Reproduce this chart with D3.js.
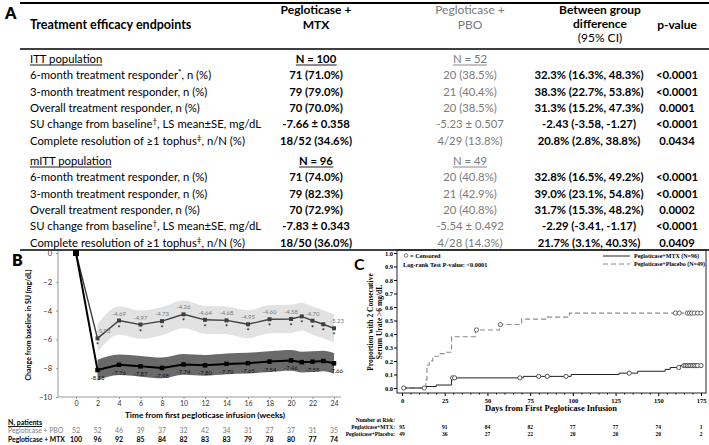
<!DOCTYPE html>
<html><head><meta charset="utf-8">
<script src="https://cdn.jsdelivr.net/npm/d3@7"></script>
<style>
body{margin:0;background:#fff;}
svg{display:block;}
.tbl text{font-family:Lato,"Open Sans",sans-serif;}
.pb text{font-family:Lato,"Open Sans",sans-serif;}
.pc text{font-family:"Liberation Serif","DejaVu Serif",serif;font-weight:700;}
</style></head><body>
<svg id="fig" width="709" height="445"></svg>
<script>
// ================= Panel A data =================
const colHeadMTX = ["Pegloticase +", "MTX"];
const colHeadPBO = ["Pegloticase +", "PBO"];
const colHeadDiff = ["Between group", "difference", "(95% CI)"];
const colHeadP = "p-value";
const sectionNames = ["ITT population", "mITT population"];
const sectionN_MTX = ["N = 100", "N = 96"];
const sectionN_PBO = ["N = 52", "N = 49"];
// label parts: [main, superscript, rest]
const ittLabels = [
  ["6-month treatment responder", "*", ", n (%)"],
  ["3-month treatment responder, n (%)", "", ""],
  ["Overall treatment responder, n (%)", "", ""],
  ["SU change from baseline", "†", ", LS mean±SE, mg/dL"],
  ["Complete resolution of ≥1 tophus", "‡", ", n/N (%)"]
];
const mittLabels = [
  ["6-month treatment responder, n (%)", "", ""],
  ["3-month treatment responder, n (%)", "", ""],
  ["Overall treatment responder, n (%)", "", ""],
  ["SU change from baseline", "†", ", LS mean±SE, mg/dL"],
  ["Complete resolution of ≥1 tophus", "‡", ", n/N (%)"]
];
const ittMTX = ["71 (71.0%)", "79 (79.0%)", "70 (70.0%)", "-7.66 ± 0.358", "18/52 (34.6%)"];
const ittPBO = ["20 (38.5%)", "21 (40.4%)", "20 (38.5%)", "-5.23 ± 0.507", "4/29 (13.8%)"];
const ittDiff = ["32.3% (16.3%, 48.3%)", "38.3% (22.7%, 53.8%)", "31.3% (15.2%, 47.3%)", "-2.43 (-3.58, -1.27)", "20.8% (2.8%, 38.8%)"];
const ittP = ["<0.0001", "<0.0001", "0.0001", "<0.0001", "0.0434"];
const mittMTX = ["71 (74.0%)", "79 (82.3%)", "70 (72.9%)", "-7.83 ± 0.343", "18/50 (36.0%)"];
const mittPBO = ["20 (40.8%)", "21 (42.9%)", "20 (40.8%)", "-5.54 ± 0.492", "4/28 (14.3%)"];
const mittDiff = ["32.8% (16.5%, 49.2%)", "39.0% (23.1%, 54.8%)", "31.7% (15.3%, 48.2%)", "-2.29 (-3.41, -1.17)", "21.7% (3.1%, 40.3%)"];
const mittP = ["<0.0001", "<0.0001", "0.0002", "<0.0001", "0.0409"];

// ================= Panel B data =================
const weeksB = [0, 2, 4, 6, 8, 10, 12, 14, 16, 18, 20, 21, 22, 23, 24];
const pboMean = [0, -5.93, -4.69, -4.97, -4.73, -4.26, -4.64, -4.68, -4.95, -4.60, -4.58, -4.40, -4.70, -4.95, -5.23];
const pboLabels = ["", "-5.93", "-4.69", "-4.97", "-4.73", "-4.26", "-4.64", "-4.68", "-4.95", "-4.60", "-4.58", "", "-4.70", "", "-5.23"];
const pboUpper = [null, -4.95, -3.70, -4.00, -3.75, -3.30, -3.68, -3.72, -3.98, -3.62, -3.60, -3.45, -3.72, -3.98, -4.25];
const pboLower = [null, -6.90, -5.68, -5.95, -5.71, -5.22, -5.60, -5.64, -5.92, -5.58, -5.56, -5.38, -5.68, -5.92, -6.21];
const mtxMean = [0, -8.13, -7.76, -7.87, -7.98, -7.74, -7.80, -7.70, -7.65, -7.54, -7.46, -7.58, -7.55, -7.50, -7.66];
const mtxLabels = ["", "-8.13", "-7.76", "-7.87", "-7.98", "-7.74", "-7.80", "-7.70", "-7.65", "-7.54", "-7.46", "", "-7.55", "", "-7.66"];
const mtxUpper = [null, -7.41, -7.04, -7.15, -7.26, -7.02, -7.08, -6.98, -6.93, -6.82, -6.74, -6.86, -6.83, -6.78, -6.94];
const mtxLower = [null, -8.85, -8.48, -8.59, -8.70, -8.46, -8.52, -8.42, -8.37, -8.26, -8.18, -8.30, -8.27, -8.22, -8.38];
const yTicksB = [0, -2, -4, -6, -8, -10];
const xTicksB = [0, 2, 4, 6, 8, 10, 12, 14, 16, 18, 20, 22, 24];
const nPBO = [52, 52, 46, 39, 37, 32, 42, 34, 31, 27, 37, 31, 35];
const nMTX = [100, 96, 92, 85, 84, 82, 83, 83, 79, 78, 80, 77, 74];

// ================= Panel C data =================
const mtxSteps = [[0, 0], [14, 0.011], [20, 0.022], [29, 0.075], [71, 0.086], [99, 0.100], [127, 0.110], [138, 0.124], [154, 0.138], [157, 0.152], [163, 0.166]];
const mtxCensor = [[1, 0], [29.6, 0.075], [30.8, 0.075], [69, 0.075], [80, 0.086], [85, 0.086], [96, 0.086], [133, 0.110], [162, 0.152], [165, 0.166], [166, 0.166], [167, 0.166], [168, 0.166], [169, 0.166], [170, 0.166], [171, 0.166], [172, 0.166], [173, 0.166], [175, 0.166]];
const pboSteps = [[0, 0], [14, 0.06], [14.6, 0.17], [16, 0.20], [18, 0.235], [21.5, 0.255], [25, 0.265], [29, 0.38], [43, 0.43], [57, 0.47], [70, 0.51], [85, 0.525], [98, 0.555]];
const pboCensor = [[13, 0], [43.6, 0.43], [57.6, 0.47], [160, 0.555], [162.3, 0.555], [167, 0.555], [168.3, 0.555], [169.5, 0.555], [171, 0.555], [173, 0.555], [175, 0.555]];
const riskDays = [0, 25, 50, 75, 100, 125, 150, 175];
const riskMTX = [95, 91, 84, 82, 77, 77, 74, 1];
const riskPBO = [49, 36, 27, 22, 20, 20, 20, 2];
const yTicksC = [0, 0.1, 0.2, 0.3, 0.4, 0.5, 0.6, 0.7, 0.8, 0.9, 1.0];

// ================= Drawing =================
const svg = d3.select("#fig");
svg.append("rect").attr("width", 709).attr("height", 445).attr("fill", "#fff");

function hline(g, x1, x2, y, w) {
  g.append("line").attr("x1", x1).attr("x2", x2).attr("y1", y).attr("y2", y)
    .attr("stroke", "#000").attr("stroke-width", w);
}
function underline(g, t, color) {
  const n = t.node(); const bb = n.getBBox();
  g.append("line").attr("x1", bb.x).attr("x2", bb.x + bb.width)
    .attr("y1", +t.attr("y") + 2).attr("y2", +t.attr("y") + 2)
    .attr("stroke", color).attr("stroke-width", 0.9);
}

// ---- Panel A ----
const A = svg.append("g").attr("class", "tbl");
const FS = 11.3;
const cx = { label: 30, mtx: 316, pbo: 470, diff: 589, p: 677 };
A.append("text").text("A").attr("x", 5).attr("y", 19).attr("font-size", 16).attr("font-weight", 800);
hline(A, 20, 709, 3, 2);
hline(A, 20, 709, 49, 1.6);
hline(A, 20, 709, 250, 1.6);

A.append("text").text("Treatment efficacy endpoints").attr("x", cx.label).attr("y", 29)
  .attr("font-size", 12.5).attr("font-weight", 700);
colHeadMTX.forEach((s, i) => A.append("text").text(s).attr("x", cx.mtx).attr("y", 14 + 15 * i)
  .attr("text-anchor", "middle").attr("font-size", 12).attr("font-weight", 700));
colHeadPBO.forEach((s, i) => A.append("text").text(s).attr("x", cx.pbo).attr("y", 14 + 15 * i)
  .attr("text-anchor", "middle").attr("font-size", 12).attr("fill", "#7a7a7a"));
colHeadDiff.forEach((s, i) => A.append("text").text(s).attr("x", 600).attr("y", 14 + 14 * i)
  .attr("text-anchor", "middle").attr("font-size", 12).attr("font-weight", i < 2 ? 700 : 400));
A.append("text").text(colHeadP).attr("x", cx.p).attr("y", 29).attr("text-anchor", "middle")
  .attr("font-size", 12).attr("font-weight", 700);

const sections = [
  { y0: 63, labels: ittLabels, mtx: ittMTX, pbo: ittPBO, diff: ittDiff, p: ittP },
  { y0: 165, labels: mittLabels, mtx: mittMTX, pbo: mittPBO, diff: mittDiff, p: mittP }
];
const pitch = 16.3;
sections.forEach((sec, si) => {
  const t1 = A.append("text").text(sectionNames[si]).attr("x", cx.label).attr("y", sec.y0).attr("font-size", FS);
  underline(A, t1, "#000");
  const t2 = A.append("text").text(sectionN_MTX[si]).attr("x", cx.mtx).attr("y", sec.y0)
    .attr("text-anchor", "middle").attr("font-size", FS).attr("font-weight", 700);
  underline(A, t2, "#000");
  const t3 = A.append("text").text(sectionN_PBO[si]).attr("x", cx.pbo).attr("y", sec.y0)
    .attr("text-anchor", "middle").attr("font-size", FS).attr("fill", "#7a7a7a");
  underline(A, t3, "#7a7a7a");
  sec.labels.forEach((lab, i) => {
    const y = sec.y0 + pitch * (i + 1);
    const t = A.append("text").attr("x", cx.label).attr("y", y).attr("font-size", FS);
    t.append("tspan").text(lab[0]);
    if (lab[1]) t.append("tspan").text(lab[1]).attr("font-size", 8).attr("dy", -4).attr("font-weight", lab[1] === "*" ? 700 : 400);
    if (lab[2]) t.append("tspan").text(lab[2]).attr("dy", lab[1] ? 4 : 0);
    A.append("text").text(sec.mtx[i]).attr("x", cx.mtx).attr("y", y).attr("text-anchor", "middle")
      .attr("font-size", FS).attr("font-weight", 700);
    A.append("text").text(sec.pbo[i]).attr("x", cx.pbo).attr("y", y).attr("text-anchor", "middle")
      .attr("font-size", FS).attr("fill", "#7a7a7a");
    A.append("text").text(sec.diff[i]).attr("x", cx.diff).attr("y", y).attr("text-anchor", "middle")
      .attr("font-size", FS).attr("font-weight", 700);
    A.append("text").text(sec.p[i]).attr("x", cx.p).attr("y", y).attr("text-anchor", "middle")
      .attr("font-size", FS).attr("font-weight", 700);
  });
});

// ---- Panel B ----
const B = svg.append("g").attr("class", "pb");
const xB = d3.scaleLinear().domain([0, 24]).range([76, 334]);
const yB = d3.scaleLinear().domain([-10, 0]).range([397, 253]);
B.append("text").text("B").attr("x", 12).attr("y", 266).attr("font-size", 16).attr("font-weight", 800);

const idx = d3.range(1, weeksB.length);
const areaB = d3.area().x(i => xB(weeksB[i])).curve(d3.curveMonotoneX);
B.append("path").datum(idx).attr("fill", "#e2e2e2")
  .attr("d", areaB.y0(i => yB(pboLower[i])).y1(i => yB(pboUpper[i])));
B.append("path").datum(idx).attr("fill", "#6a6a6a")
  .attr("d", areaB.y0(i => yB(mtxLower[i])).y1(i => yB(mtxUpper[i])));

// axes
const yAxB = d3.axisLeft(yB).tickValues(yTicksB).tickSize(2).tickSizeOuter(0).tickFormat(d3.format("d"));
const gyB = B.append("g").attr("transform", "translate(58,0)").call(yAxB);
gyB.select(".domain").remove();
gyB.selectAll("text").attr("font-size", 7.5).attr("fill", "#333").attr("x", -6);
gyB.selectAll("line").attr("stroke", "#999");
B.append("line").attr("x1", 58).attr("x2", 58).attr("y1", 251).attr("y2", 397).attr("stroke", "#999").attr("stroke-width", 1);
const xAxB = d3.axisBottom(xB).tickValues(xTicksB).tickSize(2).tickSizeOuter(0);
const gxB = B.append("g").attr("transform", "translate(0,397)").call(xAxB);
gxB.select(".domain").remove();
gxB.selectAll("text").attr("font-size", 7).attr("fill", "#333").attr("y", 4);
gxB.selectAll("line").attr("stroke", "#999");
B.append("line").attr("x1", 58).attr("x2", 341).attr("y1", 397).attr("y2", 397).attr("stroke", "#999");

B.append("text").text("Change from baseline in SU (mg/dL)").attr("transform", "translate(31,325) rotate(-90)")
  .attr("text-anchor", "middle").attr("font-size", 7).attr("font-weight", 700);
B.append("text").text("Time from first pegloticase infusion (weeks)").attr("x", 205).attr("y", 417.5)
  .attr("text-anchor", "middle").attr("font-size", 8.3).attr("font-weight", 700);

// lines
const lineB = d3.line().x(i => xB(weeksB[i]));
const allIdx = d3.range(weeksB.length);
B.append("path").datum(allIdx).attr("fill", "none").attr("stroke", "#3e3e3e").attr("stroke-width", 1.4)
  .attr("d", lineB.y(i => yB(pboMean[i])));
B.append("path").datum(allIdx).attr("fill", "none").attr("stroke", "#000").attr("stroke-width", 2)
  .attr("d", lineB.y(i => yB(mtxMean[i])));
// markers
B.selectAll(".mp").data(idx).join("rect").attr("width", 4).attr("height", 4)
  .attr("x", i => xB(weeksB[i]) - 2).attr("y", i => yB(pboMean[i]) - 2).attr("fill", "#3e3e3e");
B.selectAll(".mm").data(idx).join("rect").attr("width", 4.5).attr("height", 4.5)
  .attr("x", i => xB(weeksB[i]) - 2.25).attr("y", i => yB(mtxMean[i]) - 2.25).attr("fill", "#000");
B.append("rect").attr("x", xB(0) - 3).attr("y", yB(0) - 3).attr("width", 6).attr("height", 6).attr("fill", "#000");
// labels
B.selectAll(".lp").data(idx.filter(i => pboLabels[i])).join("text").text(i => pboLabels[i])
  .attr("x", i => xB(weeksB[i]) + (i === 1 ? 6 : i === 14 ? 3 : 0)).attr("y", i => yB(pboMean[i]) - 5)
  .attr("text-anchor", "middle").attr("font-size", 6).attr("fill", "#7a7a7a");
B.selectAll(".lm").data(idx.filter(i => mtxLabels[i])).join("text").text(i => mtxLabels[i])
  .attr("x", i => xB(weeksB[i]) + (i === 1 ? 0 : i === 14 ? 2 : 0)).attr("y", i => yB(mtxMean[i]) + 10)
  .attr("text-anchor", "middle").attr("font-size", 6).attr("fill", "#111");
// asterisks
B.selectAll(".ast").data(idx).join("text").text("*")
  .attr("x", i => xB(weeksB[i])).attr("y", i => yB(pboMean[i]) + 10)
  .attr("text-anchor", "middle").attr("font-size", 7).attr("font-weight", 700).attr("fill", "#111");

// N patients
const tN = B.append("text").text("N, patients").attr("x", 8).attr("y", 424.5).attr("font-size", 7).attr("font-weight", 700);
underline(B, tN, "#000");
B.append("text").text("Pegloticase + PBO").attr("x", 8).attr("y", 433).attr("font-size", 6.8).attr("fill", "#808080");
B.append("text").text("Pegloticase + MTX").attr("x", 8).attr("y", 442).attr("font-size", 6.8).attr("font-weight", 700);
B.selectAll(".np").data(xTicksB).join("text").text((d, i) => nPBO[i])
  .attr("x", d => xB(d)).attr("y", 433).attr("text-anchor", "middle").attr("font-size", 7).attr("fill", "#808080");
B.selectAll(".nm").data(xTicksB).join("text").text((d, i) => nMTX[i])
  .attr("x", d => xB(d)).attr("y", 442).attr("text-anchor", "middle").attr("font-size", 7).attr("font-weight", 700);

// ---- Panel C ----
const C = svg.append("g").attr("class", "pc");
const xC = d3.scaleLinear().domain([0, 175]).range([402, 701]);
const yC = d3.scaleLinear().domain([0, 1]).range([388, 253]);
C.append("text").text("C").attr("x", 354).attr("y", 270).attr("font-size", 16)
  .style("font-family", "Lato, sans-serif").attr("font-weight", 800);
C.append("rect").attr("x", 397).attr("y", 250).attr("width", 309).attr("height", 143)
  .attr("fill", "none").attr("stroke", "#222").attr("stroke-width", 1);

const yAxC = d3.axisLeft(yC).tickValues(yTicksC).tickSize(3).tickSizeOuter(0).tickFormat(d3.format(".1f"));
const gyC = C.append("g").attr("transform", "translate(397,0)").call(yAxC);
gyC.select(".domain").remove();
gyC.selectAll("text").attr("font-size", 6.5).attr("x", -4).style("font-family", "Liberation Serif, serif").attr("font-weight", 700);
const xAxC = d3.axisBottom(xC).tickValues(riskDays).tickSize(3).tickSizeOuter(0);
const gxC = C.append("g").attr("transform", "translate(0,393)").call(xAxC);
gxC.select(".domain").remove();
gxC.selectAll("text").attr("font-size", 6.5).attr("y", 5).style("font-family", "Liberation Serif, serif").attr("font-weight", 700);
const minorC = d3.axisBottom(xC).tickValues(d3.range(5, 176, 5).filter(d => d % 25)).tickSize(1.5).tickFormat("");
const gmC = C.append("g").attr("transform", "translate(0,393)").call(minorC);
gmC.select(".domain").remove();

C.append("text").attr("transform", "translate(373,322) rotate(-90)").attr("text-anchor", "middle")
  .attr("font-size", 7.5).text("Proportion with 2 Consecutive");
C.append("text").attr("transform", "translate(382,322) rotate(-90)").attr("text-anchor", "middle")
  .attr("font-size", 7.5).text("Serum Urate >6 mg/dL");
C.append("text").text("Days from First Pegloticase Infusion").attr("x", 551).attr("y", 411)
  .attr("text-anchor", "middle").attr("font-size", 8.5);

// curves
const stepLine = d3.line().x(d => xC(d[0])).y(d => yC(d[1])).curve(d3.curveStepAfter);
C.append("path").datum(pboSteps.concat([[175, pboSteps[pboSteps.length - 1][1]]]))
  .attr("fill", "none").attr("stroke", "#8a8a8a").attr("stroke-width", 1.1).attr("stroke-dasharray", "5,3")
  .attr("d", stepLine);
C.append("path").datum(mtxSteps.concat([[175, mtxSteps[mtxSteps.length - 1][1]]]))
  .attr("fill", "none").attr("stroke", "#222").attr("stroke-width", 1).attr("d", stepLine);
C.selectAll(".cp").data(pboCensor).join("circle").attr("cx", d => xC(d[0])).attr("cy", d => yC(d[1]))
  .attr("r", 2.1).attr("fill", "#fff").attr("stroke", "#555").attr("stroke-width", 0.9);
C.selectAll(".cm").data(mtxCensor).join("circle").attr("cx", d => xC(d[0])).attr("cy", d => yC(d[1]))
  .attr("r", 2.1).attr("fill", "#fff").attr("stroke", "#444").attr("stroke-width", 0.9);

// legends
C.append("circle").attr("cx", 406).attr("cy", 255.5).attr("r", 1.8).attr("fill", "none").attr("stroke", "#444").attr("stroke-width", 0.7);
C.append("text").text("= Censored").attr("x", 410).attr("y", 258).attr("font-size", 6.3);
C.append("text").text("Log-rank Test P-value: <0.0001").attr("x", 403).attr("y", 267).attr("font-size", 6.3);
C.append("line").attr("x1", 603).attr("x2", 630).attr("y1", 256).attr("y2", 256).attr("stroke", "#222").attr("stroke-width", 1);
C.append("line").attr("x1", 603).attr("x2", 630).attr("y1", 264).attr("y2", 264).attr("stroke", "#8a8a8a")
  .attr("stroke-width", 1).attr("stroke-dasharray", "5,3");
C.append("text").text("Pegloticase+MTX (N=96)").attr("x", 634).attr("y", 258).attr("font-size", 6);
C.append("text").text("Pegloticase+Placebo (N=49)").attr("x", 634).attr("y", 266).attr("font-size", 6);

// number at risk
C.append("text").text("Number at Risk:").attr("x", 395).attr("y", 422).attr("text-anchor", "end").attr("font-size", 5.5);
C.append("text").text("Pegloticase+MTX:").attr("x", 395).attr("y", 429).attr("text-anchor", "end").attr("font-size", 5.5);
C.append("text").text("Pegloticase+Placebo:").attr("x", 395).attr("y", 436).attr("text-anchor", "end").attr("font-size", 5.5);
C.selectAll(".rm").data(riskDays).join("text").text((d, i) => riskMTX[i]).attr("x", d => xC(d)).attr("y", 429)
  .attr("text-anchor", "middle").attr("font-size", 5.5);
C.selectAll(".rp").data(riskDays).join("text").text((d, i) => riskPBO[i]).attr("x", d => xC(d)).attr("y", 436)
  .attr("text-anchor", "middle").attr("font-size", 5.5);
</script>
</body></html>
